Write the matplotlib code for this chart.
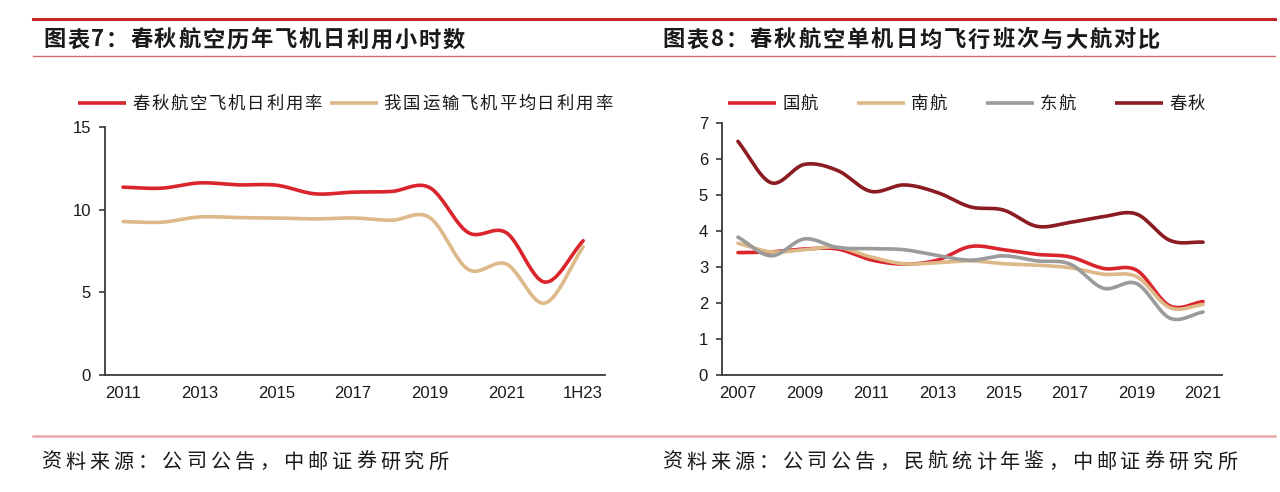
import numpy as np
import matplotlib
matplotlib.use('Agg')
import matplotlib.pyplot as plt
from matplotlib.lines import Line2D

plt.rcParams['font.family'] = ['Noto Sans CJK SC', 'DejaVu Sans']

# chart 7: daily utilisation hours
years7 = ['2011', '2012', '2013', '2014', '2015', '2016', '2017',
          '2018', '2019', '2020', '2021', '2022', '1H23']
spring_util = [11.36, 11.3, 11.62, 11.5, 11.48, 10.96, 11.06, 11.1, 11.33, 8.62, 8.6, 5.62, 8.12]
china_util = [9.28, 9.24, 9.56, 9.52, 9.5, 9.44, 9.5, 9.36, 9.52, 6.39, 6.71, 4.35, 7.75]

# chart 8: daily flights per aircraft
years8 = [str(y) for y in range(2007, 2022)]
air_china = [3.4, 3.42, 3.5, 3.5, 3.2, 3.08, 3.19, 3.57, 3.48, 3.35, 3.28, 2.96, 2.91, 1.92, 2.04]
china_southern = [3.66, 3.42, 3.48, 3.55, 3.28, 3.09, 3.12, 3.17, 3.09, 3.05, 2.98, 2.8, 2.73, 1.87, 1.96]
china_eastern = [3.83, 3.31, 3.78, 3.54, 3.51, 3.48, 3.32, 3.19, 3.31, 3.17, 3.08, 2.41, 2.54, 1.58, 1.75]
spring8 = [6.49, 5.34, 5.85, 5.68, 5.1, 5.28, 5.07, 4.67, 4.58, 4.13, 4.24, 4.4, 4.47, 3.74, 3.69]

RED = '#D9252B'
TAN = '#DDB888'
GREY = '#9B9B9B'
DARK = '#8A1C22'
LINE_RED = '#C4262C'
TEXT = '#1a1a1a'
TICK_FONT = 'Liberation Sans'


def smooth(y, n=24):
    # uniform catmull-rom through the points, like excel's smoothed line
    y = np.asarray(y, dtype=float)
    x = np.arange(len(y), dtype=float)
    px = np.concatenate([[2 * x[0] - x[1]], x, [2 * x[-1] - x[-2]]])
    py = np.concatenate([[2 * y[0] - y[1]], y, [2 * y[-1] - y[-2]]])
    t = np.linspace(0, 1, n, endpoint=False)
    xs, ys = [], []
    for i in range(len(y) - 1):
        for p, out in ((px, xs), (py, ys)):
            p0, p1, p2, p3 = p[i], p[i + 1], p[i + 2], p[i + 3]
            out.append(0.5 * (2 * p1 + (-p0 + p2) * t + (2 * p0 - 5 * p1 + 4 * p2 - p3) * t ** 2
                              + (-p0 + 3 * p1 - 3 * p2 + p3) * t ** 3))
    xs.append([x[-1]])
    ys.append([y[-1]])
    return np.concatenate(xs), np.concatenate(ys)


def style_axis(ax):
    for side in ('top', 'right'):
        ax.spines[side].set_visible(False)
    for side in ('left', 'bottom'):
        ax.spines[side].set_color('#3a3a3a')
        ax.spines[side].set_linewidth(1.3)
    ax.tick_params(axis='y', direction='out', length=4, width=1.2, color='#3a3a3a', pad=6)
    ax.tick_params(axis='x', length=0, pad=8)
    for lab in ax.get_xticklabels() + ax.get_yticklabels():
        lab.set_fontfamily(TICK_FONT)
        lab.set_fontsize(12)
        lab.set_color(TEXT)


fig = plt.figure(figsize=(12.8, 4.92), dpi=100)
W, H = 1280.0, 492.0
renderer = fig.canvas.get_renderer()


def fx(px):
    return px / W


def fy(py):
    return 1 - py / H


def tracked(x_px, y_px, s, size, gap, **kw):
    # the source text is set with wide letter spacing, draw it char by char
    x = x_px
    for ch in s:
        t = fig.text(fx(x), fy(y_px), ch, fontsize=size, va='center', color=TEXT, **kw)
        x += t.get_window_extent(renderer).width + gap
    return x


def legend_entry(x_px, y_px, color, label, size=12.5, gap=1.8):
    fig.add_artist(Line2D([fx(x_px), fx(x_px + 48)], [fy(y_px), fy(y_px)],
                          transform=fig.transFigure, color=color, lw=2.6, solid_capstyle='butt'))
    return tracked(x_px + 54, y_px + 1, label, size, gap)


# left chart
ax1 = fig.add_axes([fx(105), fy(375), fx(500), (375 - 127) / H])
series7 = ((spring_util, RED, '春秋航空飞机日利用率'), (china_util, TAN, '我国运输飞机平均日利用率'))
for vals, col, lab in series7:
    sx, sy = smooth(vals)
    ax1.plot(sx, sy, color=col, lw=2.6, label=lab, solid_capstyle='round')
ax1.set_xlim(-0.47, 12.57)
ax1.set_ylim(0, 15)
ax1.set_yticks([0, 5, 10, 15])
ax1.set_xticks(range(0, len(years7), 2))
ax1.set_xticklabels(years7[::2])
style_axis(ax1)

x = 78
for vals, col, lab in series7:
    x = legend_entry(x, 103, col, lab) + 6

# right chart
ax2 = fig.add_axes([fx(722), fy(375), fx(500), (375 - 123) / H])
series8 = ((air_china, RED, '国航'), (china_southern, TAN, '南航'),
           (china_eastern, GREY, '东航'), (spring8, DARK, '春秋'))
for vals, col, lab in series8:
    sx, sy = smooth(vals)
    ax2.plot(sx, sy, color=col, lw=2.6, label=lab, solid_capstyle='round')
ax2.set_xlim(-0.48, 14.57)
ax2.set_ylim(0, 7)
ax2.set_yticks(range(0, 8))
ax2.set_xticks(range(0, len(years8), 2))
ax2.set_xticklabels(years8[::2])
style_axis(ax2)

for i, (vals, col, lab) in enumerate(series8):
    legend_entry(728 + 129 * i, 103, col, lab, gap=1)

# header / footer rules and texts
fig.add_artist(Line2D([fx(33), fx(1275)], [fy(19), fy(19)], transform=fig.transFigure, color=LINE_RED, lw=2.2))
fig.add_artist(Line2D([fx(33), fx(1275)], [fy(56), fy(56)], transform=fig.transFigure, color='#D86A6E', lw=1.0))
fig.add_artist(Line2D([fx(33), fx(1275)], [fy(436), fy(436)], transform=fig.transFigure, color='#E6A8A8', lw=1.8))

tracked(43, 40, '图表7：春秋航空历年飞机日利用小时数', 16, 1.8, weight='bold')
tracked(662, 40, '图表8：春秋航空单机日均飞行班次与大航对比', 16, 2.0, weight='bold')
tracked(41, 462, '资料来源：公司公告，中邮证券研究所', 14.5, 4.1)
tracked(662, 462, '资料来源：公司公告，民航统计年鉴，中邮证券研究所', 14.5, 4.0)

fig.savefig('out.png', dpi=100)
